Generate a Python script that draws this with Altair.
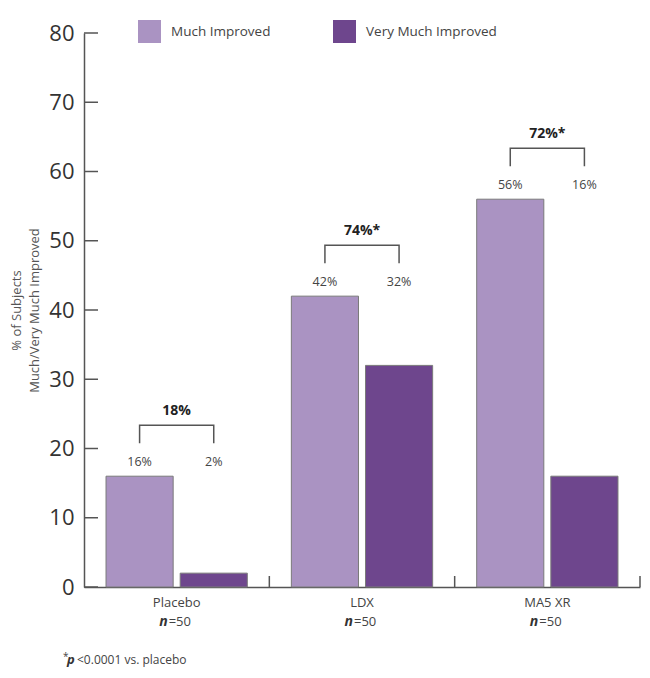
import altair as alt
import pandas as pd

# ---- data ----
groups = ["Placebo", "LDX", "MA5 XR"]
series = ["Much Improved", "Very Much Improved"]
much_improved = [16, 42, 56]
very_much_improved = [2, 32, 16]
combined_labels = ["18%", "74%*", "72%*"]
n_subjects = [50, 50, 50]
y_ticks = [0, 10, 20, 30, 40, 50, 60, 70, 80]
colors = ["#AA93C2", "#6E468D"]
footnote_parts = ["*", "p", "<0.0001 vs. placebo"]

W, H = 556, 554
FONT = "Open Sans"
BRACKET_LEG = 4.75   # data units above the taller bar
BRACKET_TOP = 7.35

bars_df = pd.DataFrame(
    [{"group": g, "series": series[0], "y": m} for g, m in zip(groups, much_improved)]
    + [{"group": g, "series": series[1], "y": v} for g, v in zip(groups, very_much_improved)]
)
vlab_df = pd.DataFrame(
    [{"group": g, "series": series[0], "y": m, "t": f"{m}%"} for g, m, v in zip(groups, much_improved, very_much_improved)]
    + [{"group": g, "series": series[1], "y": m, "t": f"{v}%"} for g, m, v in zip(groups, much_improved, very_much_improved)]
)
br_rows = []
for g, m in zip(groups, much_improved):
    br_rows += [
        {"group": g, "series": series[0], "y": m + BRACKET_LEG, "o": 0},
        {"group": g, "series": series[0], "y": m + BRACKET_TOP, "o": 1},
        {"group": g, "series": series[1], "y": m + BRACKET_TOP, "o": 2},
        {"group": g, "series": series[1], "y": m + BRACKET_LEG, "o": 3},
    ]
br_df = pd.DataFrame(br_rows)
brlab_df = pd.DataFrame({"group": groups, "y": [m + BRACKET_TOP for m in much_improved], "t": combined_labels})
xlab_df = pd.DataFrame({"group": groups, "n": ["n"] * 3, "eq": [f"={k}" for k in n_subjects]})
ticks_df = pd.DataFrame({"y": y_ticks})
foot_df = pd.DataFrame({"a": [footnote_parts[0]], "b": [footnote_parts[1]], "c": [footnote_parts[2]]})

x_scale = alt.Scale(domain=groups, paddingInner=0, paddingOuter=0)
x_axis = alt.Axis(labels=False, ticks=False, title=None, domainColor="#555555", domainWidth=1.5, grid=False)
y_scale = alt.Scale(domain=[0, 80], nice=False)
y_axis = alt.Axis(
    values=y_ticks, ticks=False, grid=False, labelFontSize=22, labelColor="#333333",
    labelPadding=10, labelFont=FONT, domainColor="#555555", domainWidth=1.5,
    title=["% of Subjects", "Much/Very Much Improved"], titleFontSize=13, titleFontWeight="normal",
    titleColor="#555555", titleFont=FONT, titleX=-68, titleY=H / 2, titleAngle=-90,
    titleAlign="center", titleBaseline="middle", titleLineHeight=18,
)


def X(**kw):
    return alt.X("group:N", sort=groups, scale=x_scale, axis=x_axis, **kw)


def Y(field="y"):
    return alt.Y(f"{field}:Q", scale=y_scale, axis=y_axis)


XO = alt.XOffset("series:N", sort=series, scale=alt.Scale(domain=series, paddingInner=0.0946, paddingOuter=0.297))

bars = alt.Chart(bars_df).mark_bar(stroke="#7a7a7a", strokeWidth=1).encode(
    x=X(), xOffset=XO, y=Y(),
    color=alt.Color("series:N", sort=series, scale=alt.Scale(domain=series, range=colors),
                    legend=alt.Legend(title=None, orient="none", legendX=54, legendY=-13,
                                      direction="horizontal", symbolType="square", symbolSize=529,
                                      symbolStrokeWidth=0, labelFontSize=13.5, labelColor="#444444",
                                      labelFont=FONT, labelOffset=10, columnPadding=62, padding=0)),
)

vlabels = alt.Chart(vlab_df).mark_text(dy=-14.5, fontSize=12.5, color="#444444", font=FONT).encode(
    x=X(), xOffset=XO, y=Y(), text="t:N"
)

brackets = alt.Chart(br_df).mark_line(color="#555555", strokeWidth=1.5).encode(
    x=X(), xOffset=XO, y=Y(), detail="group:N", order="o:Q"
)

brlabels = alt.Chart(brlab_df).mark_text(dy=-14, fontSize=14, fontWeight="bold", color="#222222", font=FONT).encode(
    x=X(), y=Y(), text="t:N"
)

yticks = alt.Chart(ticks_df).mark_rule(color="#555555", strokeWidth=1.5).encode(
    y=Y(), x=alt.value(0), x2=alt.value(14)
)

xticks = alt.Chart(pd.DataFrame({"group": groups})).mark_rule(color="#555555", strokeWidth=1.5).encode(
    x=X(bandPosition=1), y=alt.value(H - 11), y2=alt.value(H)
)

xnames = alt.Chart(pd.DataFrame({"group": groups})).mark_text(fontSize=13, color="#444444", font=FONT).encode(
    x=X(), y=alt.value(H + 16), text="group:N"
)
xn = alt.Chart(xlab_df).mark_text(fontSize=14, fontWeight="bold", fontStyle="italic", color="#333333",
                                   font=FONT, align="right", dx=-9).encode(
    x=X(), y=alt.value(H + 35), text="n:N"
)
xeq = alt.Chart(xlab_df).mark_text(fontSize=13, color="#444444", font=FONT, align="left", dx=-8).encode(
    x=X(), y=alt.value(H + 35), text="eq:N"
)

foot_a = alt.Chart(foot_df).mark_text(fontSize=10, color="#444444", font=FONT, align="left").encode(
    x=alt.value(-21), y=alt.value(H + 70), text="a:N")
foot_b = alt.Chart(foot_df).mark_text(fontSize=13, fontWeight="bold", fontStyle="italic", color="#333333",
                                      font=FONT, align="left").encode(
    x=alt.value(-17), y=alt.value(H + 73), text="b:N")
foot_c = alt.Chart(foot_df).mark_text(fontSize=12, color="#444444", font=FONT, align="left").encode(
    x=alt.value(-7), y=alt.value(H + 73), text="c:N")

chart = alt.layer(
    bars, vlabels, brackets, brlabels, yticks, xticks, xnames, xn, xeq, foot_a, foot_b, foot_c
).properties(
    width=W, height=H,
    padding={"left": 76, "top": 25, "right": 2, "bottom": 81},
    autosize=alt.AutoSizeParams(type="none"),
    background="white",
).configure_view(stroke=None)

chart.save("out.html", embed_options={"renderer": "svg", "actions": False})
